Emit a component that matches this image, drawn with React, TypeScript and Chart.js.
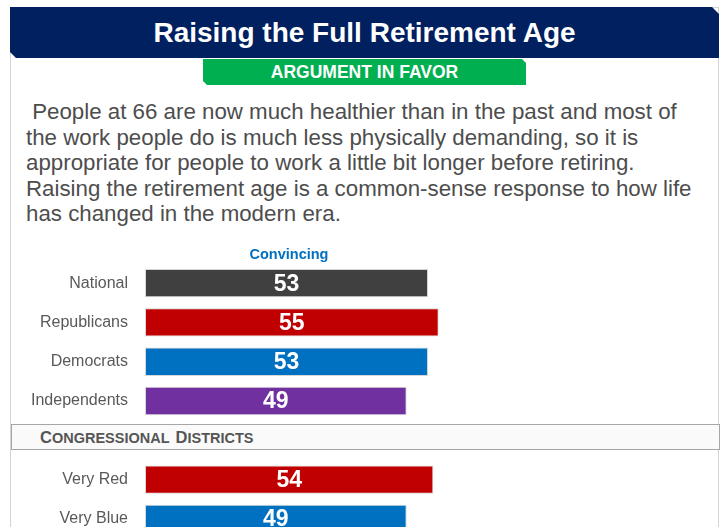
import React, { useEffect, useRef } from "react";
import { Chart, registerables } from "chart.js";

Chart.register(...registerables);

const title = "Raising the Full Retirement Age";
const subtitle = "ARGUMENT IN FAVOR";
const paragraphLines = [
  "\u00a0People at 66 are now much healthier than in the past and most of",
  "the work people do is much less physically demanding, so it is",
  "appropriate for people to work a little bit longer before retiring.",
  "Raising the retirement age is a common-sense response to how life",
  "has changed in the modern era.",
];
const columnTitle = "Convincing";
const sectionWords = [
  ["C", "ONGRESSIONAL"],
  ["D", "ISTRICTS"],
];

const categories = ["National", "Republicans", "Democrats", "Independents", "", "Very Red", "Very Blue"];
const convincing: (number | null)[] = [53, 55, 53, 49, null, 54, 49];
const barColors = ["#404040", "#C00000", "#0070C0", "#7030A0", "rgba(0,0,0,0)", "#C00000", "#0070C0"];

const FONT = "Arial, 'Liberation Sans', Helvetica, sans-serif";

const valueLabelPlugin = {
  id: "valueLabels",
  afterDatasetsDraw(chart: any) {
    const ctx = chart.ctx;
    const meta = chart.getDatasetMeta(0);
    ctx.save();
    ctx.font = `bold 23px ${FONT}`;
    ctx.fillStyle = "#ffffff";
    ctx.textAlign = "center";
    ctx.textBaseline = "middle";
    meta.data.forEach((el: any, i: number) => {
      const v = convincing[i];
      if (v === null || v === undefined) return;
      const props = el.getProps(["x", "y", "base"], true);
      ctx.fillText(String(v), (props.x + props.base) / 2, props.y + 1);
    });
    ctx.restore();
  },
};

function BarChart() {
  const ref = useRef<HTMLCanvasElement | null>(null);
  useEffect(() => {
    if (!ref.current) return;
    const chart = new Chart(ref.current, {
      type: "bar",
      data: {
        labels: categories,
        datasets: [
          {
            data: convincing as any,
            backgroundColor: barColors,
            borderColor: "rgba(210,210,210,0.9)",
            borderWidth: 1,
            borderSkipped: false,
            categoryPercentage: 1,
            barPercentage: 0.72,
          },
        ],
      },
      options: {
        indexAxis: "y",
        animation: false,
        responsive: false,
        devicePixelRatio: 1,
        layout: { padding: { left: 0, right: 44, top: 0, bottom: 0 } },
        plugins: { legend: { display: false }, tooltip: { enabled: false }, title: { display: false } },
        scales: {
          x: { display: false, min: 0, max: 100 },
          y: {
            grid: {
              display: true,
              drawOnChartArea: false,
              drawTicks: true,
              tickLength: 17,
              color: "rgba(0,0,0,0)",
            },
            border: { display: false },
            ticks: { color: "#595959", font: { size: 16, family: FONT }, padding: 0 },
            afterFit: (scale: any) => {
              scale.width = 145;
            },
          },
        },
      },
      plugins: [valueLabelPlugin],
    });
    return () => chart.destroy();
  }, []);
  return <canvas ref={ref} width={723} height={294} style={{ position: "absolute", left: 0, top: 254, width: 723, height: 294 }} />;
}

export default function App() {
  return (
    <div
      style={{
        position: "fixed",
        left: 0,
        top: 0,
        width: 723,
        height: 527,
        overflow: "hidden",
        background: "#ffffff",
        fontFamily: FONT,
      }}
    >
      <div
        style={{
          position: "absolute",
          left: 10,
          top: 7,
          width: 707,
          height: 540,
          border: "1px solid #d4d4d4",
        }}
      />
      <div
        style={{
          position: "absolute",
          left: 10,
          top: 7,
          width: 709,
          height: 51,
          background: "#002060",
          clipPath: "polygon(0 0, 702px 0, 709px 7px, 709px 51px, 6px 51px, 0 45px)",
          color: "#ffffff",
          fontWeight: "bold",
          fontSize: 28,
          lineHeight: "51px",
          textAlign: "center",
        }}
      >
        {title}
      </div>
      <div
        style={{
          position: "absolute",
          left: 203,
          top: 59,
          width: 323,
          height: 26,
          background: "#00B050",
          clipPath: "polygon(0 0, 319px 0, 323px 4px, 323px 26px, 4px 26px, 0 22px)",
          color: "#ffffff",
          fontWeight: "bold",
          fontSize: 17.5,
          lineHeight: "26px",
          textAlign: "center",
        }}
      >
        {subtitle}
      </div>
      <div
        style={{
          position: "absolute",
          left: 26,
          top: 99,
          fontSize: 22.3,
          lineHeight: "25.5px",
          color: "#4d4d4d",
          whiteSpace: "nowrap",
        }}
      >
        {paragraphLines.map((l, i) => (
          <div key={i}>{l}</div>
        ))}
      </div>
      <div
        style={{
          position: "absolute",
          left: 209,
          width: 160,
          top: 245,
          fontSize: 14.5,
          fontWeight: "bold",
          color: "#0070C0",
          textAlign: "center",
          lineHeight: "18px",
          zIndex: 1,
        }}
      >
        {columnTitle}
      </div>
      <BarChart />
      <div
        style={{
          position: "absolute",
          left: 11,
          top: 424,
          width: 707,
          height: 24,
          border: "1px solid #a6a6a6",
          background: "#fafafa",
          zIndex: 2,
        }}
      >
        <div
          style={{
            position: "absolute",
            left: 28,
            top: 0,
            lineHeight: "25px",
            fontWeight: "bold",
            color: "#555555",
            whiteSpace: "nowrap",
          }}
        >
          {sectionWords.map((w, i) => (
            <span key={i} style={{ marginRight: i === 0 ? 6 : 0 }}>
              <span style={{ fontSize: 16.5 }}>{w[0]}</span>
              <span style={{ fontSize: 14.5 }}>{w[1]}</span>
            </span>
          ))}
        </div>
      </div>
    </div>
  );
}
